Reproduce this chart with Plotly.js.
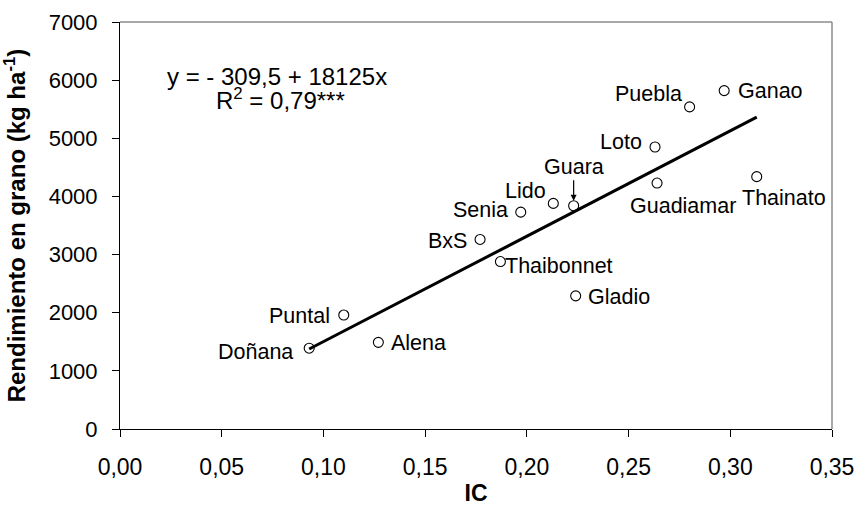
<!DOCTYPE html>
<html>
<head>
<meta charset="utf-8">
<script src="https://cdn.plot.ly/plotly-3.0.1.min.js"></script>
<style>html,body{margin:0;padding:0;background:#fff}#chart{width:858px;height:514px}</style>
</head>
<body>
<div id="chart"></div>
<script>
// Data
const varieties = ['Doñana','Puntal','Alena','BxS','Thaibonnet','Senia','Lido','Guara','Gladio','Loto','Guadiamar','Puebla','Ganao','Thainato'];
const icValues = [0.093,0.110,0.127,0.177,0.187,0.197,0.213,0.223,0.224,0.263,0.264,0.280,0.297,0.313];
const yieldValues = [1390,1960,1490,3260,2880,3730,3880,3840,2290,4850,4230,5540,5820,4340];
const regIntercept = -309.5;
const regSlope = 18125;
const equationText = 'y = - 309,5 + 18125x';
const r2Text = 'R<sup>2</sup> = 0,79***';
const xTickVals = [0,0.05,0.10,0.15,0.20,0.25,0.30,0.35];
const yTickVals = [0,1000,2000,3000,4000,5000,6000,7000];

// label placement (pixel offsets, styling only)
const labelPlace = {
  'Doñana':    {anchor:'right', dx:-14, dy:-4},
  'Puntal':    {anchor:'right', dx:-12, dy:-1},
  'Alena':     {anchor:'left',  dx:11,  dy:-1},
  'BxS':       {anchor:'right', dx:-11, dy:-2},
  'Thaibonnet':{anchor:'left',  dx:3,   dy:-4},
  'Senia':     {anchor:'right', dx:-11, dy:2},
  'Lido':      {anchor:'right', dx:-5,  dy:12},
  'Gladio':    {anchor:'left',  dx:10,  dy:-1},
  'Loto':      {anchor:'right', dx:-11, dy:5},
  'Guadiamar': {anchor:'center',dx:26,  dy:-23},
  'Puebla':    {anchor:'right', dx:-6,  dy:13},
  'Ganao':     {anchor:'left',  dx:12,  dy:0},
  'Thainato':  {anchor:'center',dx:27,  dy:-21}
};

const FONT = 'Liberation Sans, Arial, sans-serif';
const fs = 21.5;

const xMin = Math.min(...icValues), xMax = Math.max(...icValues);
const lineX = [xMin, xMax];
const lineY = lineX.map(x => regIntercept + regSlope * x);

const traces = [
  {x: icValues, y: yieldValues, type:'scatter', mode:'markers', text: varieties,
   marker:{symbol:'circle-open', size:10, color:'#000', line:{width:1.1, color:'#000'}}, showlegend:false, hoverinfo:'text+x+y'},
  {x: lineX, y: lineY, type:'scatter', mode:'lines', line:{color:'#000', width:3}, showlegend:false, hoverinfo:'skip'}
];

const annotations = [];
varieties.forEach((n,i) => {
  if (n === 'Guara') {
    annotations.push({x: icValues[i], y: yieldValues[i], text: n, showarrow:true, arrowhead:2, arrowsize:1, arrowwidth:1.2, arrowcolor:'#000',
      ax:0, ay:-39, standoff:5, font:{family:FONT, size:fs, color:'#000'}});
  } else {
    const p = labelPlace[n];
    annotations.push({x: icValues[i], y: yieldValues[i], text: n, showarrow:false, xanchor:p.anchor, yanchor:'middle',
      xshift:p.dx, yshift:p.dy, font:{family:FONT, size:fs, color:'#000'}});
  }
});
annotations.push({xref:'paper', yref:'paper', x:0.2205, y:0.866, text:equationText, showarrow:false, xanchor:'center', yanchor:'middle', font:{family:FONT, size:24, color:'#000'}});
annotations.push({xref:'paper', yref:'paper', x:0.2255, y:0.811, text:r2Text, showarrow:false, xanchor:'center', yanchor:'middle', font:{family:FONT, size:24, color:'#000'}});

const layout = {
  width:858, height:514,
  margin:{l:120, r:26, t:22, b:85},
  paper_bgcolor:'#fff', plot_bgcolor:'#fff',
  separators:',.',
  font:{family:FONT, size:fs, color:'#000'},
  xaxis:{range:[0,0.35], tickvals:xTickVals, tickformat:'.2f', ticks:'outside', ticklen:7, tickcolor:'#000', showgrid:false, zeroline:false,
    showline:true, linecolor:'#000', linewidth:1, tickfont:{family:FONT, size:23}, ticklabelstandoff:10,
    title:{text:'<b>IC</b>', font:{family:FONT, size:23}, standoff:6}},
  yaxis:{range:[0,7000], tickvals:yTickVals, tickformat:'d', ticks:'outside', ticklen:7, tickcolor:'#000', showgrid:false, zeroline:false,
    showline:true, linecolor:'#000', linewidth:1, tickfont:{family:FONT, size:22}, ticklabelstandoff:10,
    title:{text:'<b>Rendimiento en grano (kg ha<sup>-1</sup>)</b>', font:{family:FONT, size:24}, standoff:22}},
  shapes:[
    {type:'line', xref:'paper', yref:'paper', x0:0, x1:1, y0:1, y1:1, line:{color:'#8c8c8c', width:1.5}},
    {type:'line', xref:'paper', yref:'paper', x0:1, x1:1, y0:0, y1:1, line:{color:'#8c8c8c', width:1.5}}
  ],
  annotations: annotations
};

Plotly.newPlot('chart', traces, layout, {displayModeBar:false, staticPlot:true});
</script>
</body>
</html>
